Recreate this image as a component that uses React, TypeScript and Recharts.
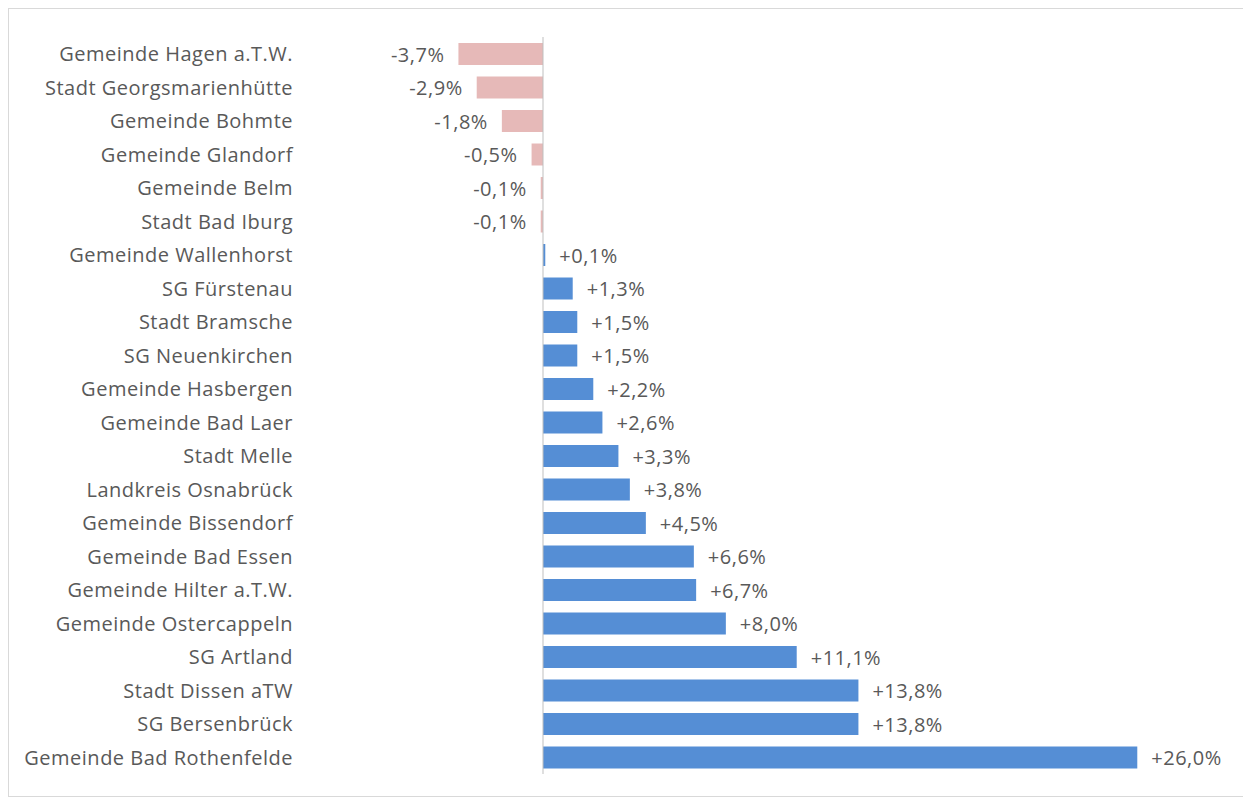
import React from "react";
import { BarChart, Bar, XAxis, YAxis, Cell, LabelList, ReferenceLine } from "recharts";

const categories = [
  "Gemeinde Hagen a.T.W.",
  "Stadt Georgsmarienhütte",
  "Gemeinde Bohmte",
  "Gemeinde Glandorf",
  "Gemeinde Belm",
  "Stadt Bad Iburg",
  "Gemeinde Wallenhorst",
  "SG Fürstenau",
  "Stadt Bramsche",
  "SG Neuenkirchen",
  "Gemeinde Hasbergen",
  "Gemeinde Bad Laer",
  "Stadt Melle",
  "Landkreis Osnabrück",
  "Gemeinde Bissendorf",
  "Gemeinde Bad Essen",
  "Gemeinde Hilter a.T.W.",
  "Gemeinde Ostercappeln",
  "SG Artland",
  "Stadt Dissen aTW",
  "SG Bersenbrück",
  "Gemeinde Bad Rothenfelde",
];

const values = [
  -3.7, -2.9, -1.8, -0.5, -0.1, -0.1, 0.1, 1.3, 1.5, 1.5, 2.2, 2.6, 3.3, 3.8, 4.5, 6.6, 6.7, 8.0, 11.1,
  13.8, 13.8, 26.0,
];

const data = categories.map((name, i) => ({ name, value: values[i] }));

const POS = "#558ed5";
const NEG = "#e6b9b8";
const TEXT = "#595959";
const FONT = "'Open Sans', sans-serif";
const FS = 20;
const LS = 0.5;

const fmt = (v: number) => (v > 0 ? "+" : v < 0 ? "-" : "") + Math.abs(v).toFixed(1).replace(".", ",") + "%";

const ValueLabel = (props: any) => {
  const { x, y, width, height, value } = props;
  const v = Number(value);
  const end = Number(x) + Number(width);
  const off = 14;
  const neg = v < 0;
  return (
    <text
      x={neg ? Math.min(end, Number(x)) - off : Math.max(end, Number(x)) + off}
      y={Number(y) + Number(height) / 2}
      textAnchor={neg ? "end" : "start"}
      dominantBaseline="central"
      fill={TEXT}
      fontSize={FS}
      letterSpacing={LS}
      fontFamily={FONT}
    >
      {fmt(v)}
    </text>
  );
};

const CatTick = (props: any) => {
  const { x, y, payload } = props;
  return (
    <text
      x={x}
      y={y}
      textAnchor="end"
      dominantBaseline="central"
      fill={TEXT}
      fontSize={FS}
      letterSpacing={LS}
      fontFamily={FONT}
    >
      {payload.value}
    </text>
  );
};

export default function App() {
  return (
    <div style={{ width: 1241, height: 787, border: "1px solid #d9d9d9", background: "#fff" }}>
      <BarChart
        width={1241}
        height={787}
        data={data}
        layout="vertical"
        margin={{ top: 28, right: 67, bottom: 22, left: 14 }}
        barSize={22}
      >
        <XAxis type="number" domain={[-10.5, 28]} hide allowDataOverflow />
        <YAxis
          type="category"
          dataKey="name"
          width={280}
          axisLine={false}
          tickLine={false}
          tickMargin={4}
          interval={0}
          tick={<CatTick />}
        />
        <ReferenceLine x={0} stroke="#bfbfbf" strokeWidth={1} />
        <Bar dataKey="value" isAnimationActive={false}>
          {data.map((d, i) => (
            <Cell key={i} fill={d.value < 0 ? NEG : POS} />
          ))}
          <LabelList dataKey="value" content={<ValueLabel />} />
        </Bar>
      </BarChart>
    </div>
  );
}
